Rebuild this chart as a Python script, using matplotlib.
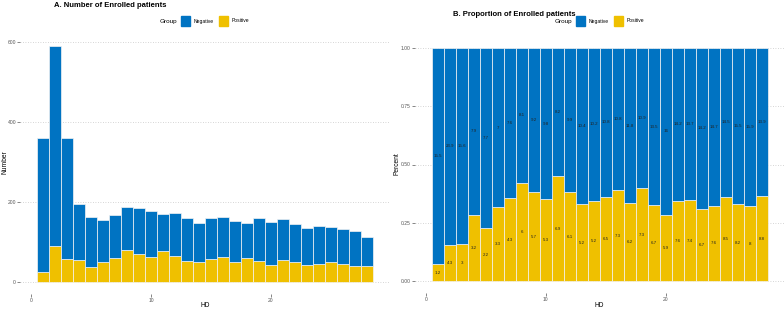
import matplotlib
matplotlib.use("Agg")
import matplotlib.pyplot as plt
from matplotlib.patches import Rectangle
import numpy as np

plt.rcParams['font.family'] = ['Liberation Sans', 'DejaVu Sans']

# ---- data ----
hd = list(range(1, 29))
total = [360, 589, 360, 196, 162, 155, 168, 187, 186, 177, 171, 173, 160, 148,
         160, 162, 153, 148, 160, 151, 157, 144, 136, 139, 138, 133, 128, 112]
positive = [26, 91, 57, 56, 37, 49, 60, 79, 71, 62, 77, 66, 53, 51,
            58, 63, 51, 59, 52, 43, 54, 50, 42, 45, 50, 44, 41, 41]
neg_labels = ["15.5", "23.9", "15.6", "7.9", "7.7", "7", "7.6", "8.1", "9.2", "9.8",
              "8.2", "9.9", "10.4", "10.2", "10.8", "10.8", "11.8", "10.9", "13.5", "16",
              "14.2", "13.7", "14.2", "14.7", "14.5", "15.5", "15.9", "13.9"]
pos_labels = ["1.2", "4.3", "3", "3.2", "2.2", "3.3", "4.3", "6", "5.7", "5.3",
              "6.9", "6.1", "5.2", "5.2", "6.5", "7.3", "6.2", "7.3", "6.7", "5.9",
              "7.6", "7.4", "6.7", "7.6", "8.5", "8.2", "8", "8.8"]
groups = ["Negative", "Positive"]
colors = {"Negative": "#0073C2", "Positive": "#EFC000"}

x = np.array(hd)
pos = np.array(positive, dtype=float)
neg = np.array(total, dtype=float) - pos
pos_frac = pos / (pos + neg)
neg_frac = 1 - pos_frac

W, H = 784, 311
fig = plt.figure(figsize=(W / 100, H / 100), dpi=100)

def px_axes(l, r, t, b):
    return fig.add_axes([l / W, (H - b) / H, (r - l) / W, (b - t) / H])

def style(ax, yticks, yticklabels):
    for s in ax.spines.values():
        s.set_visible(False)
    ax.set_xlim(-0.9, 29.9)
    ax.set_xticks([0, 10, 20])
    ax.set_yticks(yticks)
    ax.set_yticklabels(yticklabels)
    ax.tick_params(axis='both', length=2, width=0.5, color='#555555',
                   labelsize=3.6, labelcolor='#555555', pad=1)
    ax.grid(axis='y', linestyle=(0, (1, 2)), color='#c8c8c8', linewidth=0.6)
    ax.set_axisbelow(True)

def ftext(px, py, s, **kw):
    fig.text(px / W, 1 - py / H, s, **kw)

# ---- panel A ----
axA = px_axes(20.2, 389.8, 34.6, 293.8)
axA.bar(x, pos, width=1, color=colors["Positive"], edgecolor='#f4f4f4', linewidth=0.5)
axA.bar(x, neg, bottom=pos, width=1, color=colors["Negative"], edgecolor='#f4f4f4', linewidth=0.5)
style(axA, [0, 200, 400, 600], ["0", "200", "400", "600"])
axA.set_ylim(-29.5, 618.5)
ftext(5, 162, "Number", fontsize=4.8, rotation=90, ha='center', va='center')
ftext(205, 305.5, "HD", fontsize=4.8, ha='center', va='center')

# ---- panel B ----
axB = px_axes(415, 784.5, 36.0, 293.0)
axB.bar(x, pos_frac, width=1, color=colors["Positive"], edgecolor='#f4f4f4', linewidth=0.5)
axB.bar(x, neg_frac, bottom=pos_frac, width=1, color=colors["Negative"], edgecolor='#f4f4f4', linewidth=0.5)
style(axB, [0, 0.25, 0.5, 0.75, 1.0], ["0.00", "0.25", "0.50", "0.75", "1.00"])
axB.set_ylim(-0.05, 1.05)
ftext(397, 164, "Percent", fontsize=4.8, rotation=90, ha='center', va='center')
ftext(599, 305.5, "HD", fontsize=4.8, ha='center', va='center')
for xi, pf, nl, pl in zip(x, pos_frac, neg_labels, pos_labels):
    axB.text(xi, pf / 2, pl, ha='center', va='center', fontsize=3.2, color='#222222')
    axB.text(xi, pf + (1 - pf) / 2, nl, ha='center', va='center', fontsize=3.2, color='#222222')

# ---- titles and legends ----
def title_legend(title, tx, ty, gx, ly):
    ftext(tx, ty, title, fontsize=5.5, fontweight='bold', ha='left', va='center')
    ftext(gx, ly, "Group", fontsize=4.6, ha='left', va='center')
    bx = gx + 21
    for g in groups:
        fig.patches.append(Rectangle((bx / W, 1 - (ly + 4.5) / H), 9 / W, 9 / H,
                                     transform=fig.transFigure, color=colors[g]))
        ftext(bx + 12.5, ly, g, fontsize=3.6, ha='left', va='center')
        bx += 38

title_legend("A. Number of Enrolled patients", 54, 5.5, 160, 21)
title_legend("B. Proportion of Enrolled patients", 453, 14, 555, 21)

fig.savefig("out.png", dpi=100)
